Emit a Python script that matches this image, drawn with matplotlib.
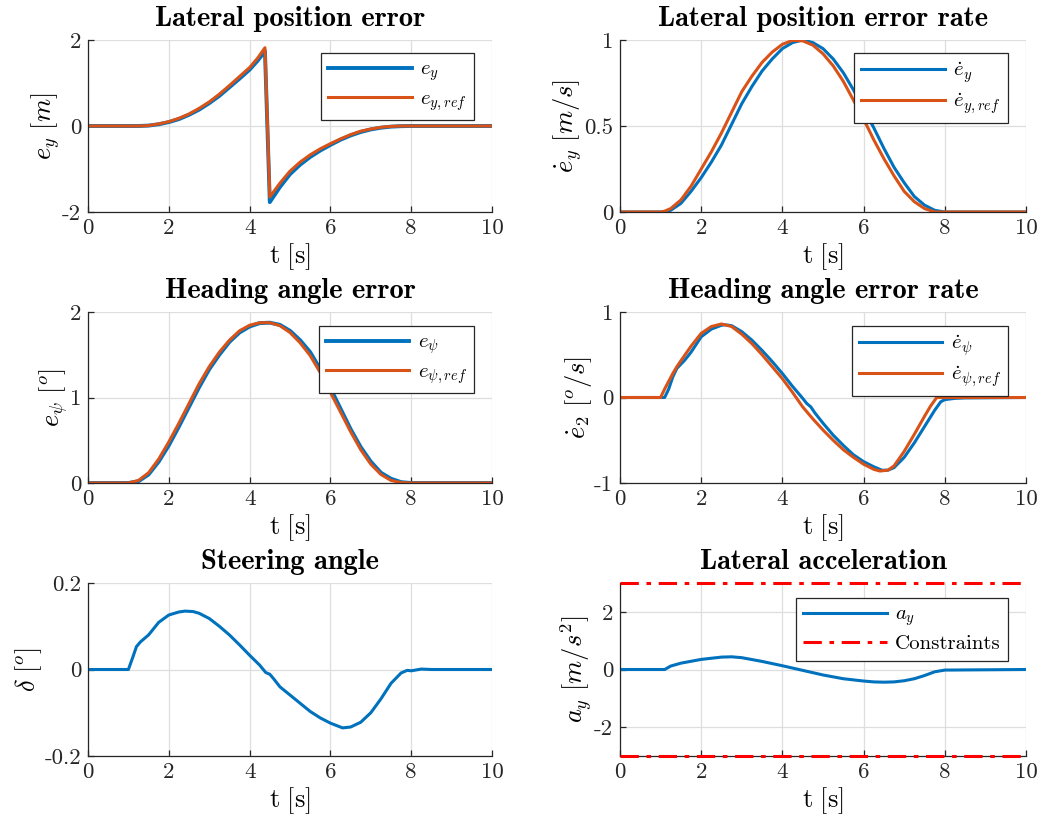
import matplotlib
matplotlib.use("Agg")
import matplotlib.pyplot as plt

plt.rcParams['font.family'] = ['cmr10', 'DejaVu Serif']
plt.rcParams['mathtext.fontset'] = 'cm'
plt.rcParams['axes.unicode_minus'] = False

BLUE = '#0072BD'
ORANGE = '#D95319'

# --- data ---
# lateral position error
t_ey = [0, 1.0, 1.25, 1.5, 1.75, 2.0, 2.25, 2.5, 2.75, 3.0, 3.25, 3.5, 3.75, 4.0, 4.2, 4.38,
        4.5, 4.75, 5.0, 5.25, 5.5, 5.75, 6.0, 6.25, 6.5, 6.75, 7.0, 7.25, 7.5, 7.75, 8.0, 10.0]
ey = [0, 0, 0.0, 0.01, 0.04, 0.09, 0.16, 0.26, 0.38, 0.53, 0.7, 0.9, 1.1, 1.31, 1.52, 1.74,
      -1.77, -1.42, -1.12, -0.9, -0.72, -0.57, -0.44, -0.32, -0.22, -0.14, -0.08, -0.04, -0.015, -0.004, 0, 0]
ey_ref = [0, 0, 0.0, 0.01, 0.05, 0.1, 0.18, 0.28, 0.41, 0.56, 0.74, 0.94, 1.15, 1.36, 1.58, 1.82,
          -1.65, -1.33, -1.05, -0.84, -0.67, -0.53, -0.41, -0.3, -0.2, -0.12, -0.07, -0.03, -0.01, 0, 0, 0]

# lateral position error rate
t_rate = [0, 1.0, 1.1, 1.25, 1.5, 1.75, 2.0, 2.25, 2.5, 2.75, 3.0, 3.25, 3.5, 3.75, 4.0, 4.25, 4.5,
          4.75, 5.0, 5.25, 5.5, 5.75, 6.0, 6.25, 6.5, 6.75, 7.0, 7.25, 7.5, 7.75, 8.0, 10.0]
ey_dot = [0, 0, 0, 0.01, 0.05, 0.12, 0.2, 0.29, 0.39, 0.51, 0.63, 0.73, 0.82, 0.89, 0.95, 0.985, 1.0,
          0.985, 0.95, 0.89, 0.81, 0.71, 0.6, 0.49, 0.37, 0.26, 0.17, 0.09, 0.04, 0.01, 0, 0]
ey_dot_ref = [0, 0, 0.005, 0.02, 0.07, 0.15, 0.25, 0.35, 0.46, 0.58, 0.7, 0.79, 0.87, 0.93, 0.975, 0.998, 0.995,
              0.97, 0.92, 0.85, 0.76, 0.65, 0.54, 0.42, 0.31, 0.21, 0.12, 0.06, 0.02, 0.0, 0, 0]

# heading angle error
t_psi = [0, 1.0, 1.25, 1.5, 1.75, 2.0, 2.25, 2.5, 2.75, 3.0, 3.25, 3.5, 3.75, 4.0, 4.25, 4.5,
         4.75, 5.0, 5.25, 5.5, 5.75, 6.0, 6.25, 6.5, 6.75, 7.0, 7.25, 7.5, 7.75, 8.0, 10.0]
epsi = [0, 0, 0.02, 0.1, 0.25, 0.44, 0.66, 0.89, 1.12, 1.33, 1.5, 1.65, 1.76, 1.83, 1.87, 1.875,
        1.85, 1.78, 1.67, 1.53, 1.33, 1.11, 0.87, 0.63, 0.42, 0.25, 0.12, 0.05, 0.01, 0, 0]
epsi_ref = [0, 0, 0.03, 0.12, 0.28, 0.48, 0.7, 0.93, 1.16, 1.36, 1.53, 1.67, 1.78, 1.845, 1.875, 1.875,
            1.84, 1.76, 1.64, 1.49, 1.29, 1.06, 0.83, 0.6, 0.39, 0.22, 0.1, 0.03, 0.005, 0, 0]

# heading angle error rate
t_pd = [0, 1.1, 1.2, 1.3, 1.4, 1.5, 1.6, 1.75, 2.0, 2.25, 2.5, 2.6, 2.75, 3.0, 3.25, 3.5, 3.75,
        4.0, 4.25, 4.5, 4.6, 4.7, 4.8, 5.0, 5.25, 5.5, 5.75, 6.0, 6.25, 6.45, 6.6, 6.75, 7.0, 7.25,
        7.5, 7.75, 7.9, 8.0, 8.25, 8.5, 10.0]
epsi_dot = [0, 0, 0.1, 0.24, 0.34, 0.39, 0.44, 0.53, 0.71, 0.8, 0.845, 0.85, 0.84, 0.77, 0.67, 0.55, 0.42,
            0.28, 0.13, -0.01, -0.07, -0.11, -0.18, -0.3, -0.44, -0.56, -0.67, -0.75, -0.81, -0.85, -0.85, -0.82, -0.7, -0.53,
            -0.34, -0.15, -0.05, -0.025, -0.01, -0.005, 0]
t_pd_ref = [0, 1.0, 1.1, 1.2, 1.3, 1.4, 1.5, 1.75, 2.0, 2.25, 2.5, 2.75, 3.0, 3.25, 3.5, 3.75, 4.0,
            4.25, 4.5, 4.75, 5.0, 5.25, 5.5, 5.75, 6.0, 6.25, 6.4, 6.6, 6.75, 7.0, 7.25, 7.5, 7.65, 7.8, 10.0]
epsi_dot_ref = [0, 0, 0.1, 0.19, 0.28, 0.36, 0.43, 0.6, 0.75, 0.83, 0.86, 0.83, 0.74, 0.63, 0.5, 0.36, 0.22,
                0.06, -0.11, -0.25, -0.38, -0.5, -0.61, -0.7, -0.78, -0.84, -0.86, -0.85, -0.8, -0.63, -0.43, -0.22, -0.1, 0, 0]

# steering angle
t_delta = [0, 1.0, 1.1, 1.2, 1.3, 1.5, 1.75, 2.0, 2.25, 2.4, 2.6, 2.75, 3.0, 3.25, 3.5, 3.75, 4.0,
           4.25, 4.4, 4.5, 4.6, 4.75, 5.0, 5.25, 5.5, 5.75, 6.0, 6.3, 6.5, 6.75, 7.0, 7.25, 7.5,
           7.75, 7.9, 8.0, 8.25, 8.5, 10.0]
delta = [0, 0, 0.026, 0.053, 0.064, 0.08, 0.109, 0.126, 0.133, 0.135, 0.134, 0.13, 0.118, 0.1, 0.08, 0.057, 0.033,
         0.01, -0.007, -0.011, -0.022, -0.04, -0.059, -0.078, -0.097, -0.112, -0.124, -0.135, -0.133, -0.122, -0.1, -0.068, -0.032,
         -0.008, -0.002, -0.003, 0.001, 0, 0]

# lateral acceleration
t_ay = [0, 1.1, 1.25, 1.5, 2.0, 2.5, 2.75, 3.0, 3.5, 4.0, 4.5, 5.0, 5.5, 6.0, 6.25, 6.5, 6.75,
        7.0, 7.25, 7.5, 7.75, 8.0, 10.0]
ay = [0, 0, 0.12, 0.22, 0.35, 0.43, 0.44, 0.41, 0.28, 0.13, -0.03, -0.19, -0.32, -0.4, -0.43, -0.44, -0.43,
      -0.39, -0.32, -0.21, -0.08, -0.02, 0]
ay_limit = 3

xticks = [0, 2, 4, 6, 8, 10]

W, H = 1042, 818
fig = plt.figure(figsize=(W / 100, H / 100), dpi=100)


def make_ax(left, top, w, h):
    return fig.add_axes([left / W, 1 - (top + h) / H, w / W, h / H])


def style(ax, title, ylabel, yticks, ylim):
    ax.set_xlim(0, 10)
    ax.set_ylim(*ylim)
    ax.set_xticks(xticks)
    ax.set_xticklabels([f'{v:g}' for v in xticks])
    ax.set_yticks(yticks)
    ax.set_yticklabels([f'{v:g}' for v in yticks])
    ax.grid(True, color='#dedede', linewidth=0.9)
    ax.set_axisbelow(True)
    for s in ('top', 'right'):
        ax.spines[s].set_visible(False)
    for s in ('left', 'bottom'):
        ax.spines[s].set_color('#262626')
        ax.spines[s].set_linewidth(0.9)
    ax.tick_params(direction='in', length=4, width=0.9, colors='#262626', labelsize=16.5, pad=5)
    ax.set_title(title, fontfamily='cmb10', fontsize=20.5, pad=10)
    ax.set_xlabel(r'$\mathrm{t\ [s]}$', fontsize=19, labelpad=2)
    ax.set_ylabel(ylabel, fontsize=19, labelpad=0)


def legend(ax, top_gap):
    h = ax.get_position().height * H
    leg = ax.legend(loc='upper right', bbox_to_anchor=(1 - 18 / (ax.get_position().width * W), 1 - top_gap / h),
                    borderaxespad=0, fontsize=15, handlelength=4.0, frameon=True, fancybox=False,
                    framealpha=1, edgecolor='#262626', borderpad=0.35, labelspacing=0.3, handletextpad=0.4)
    leg.get_frame().set_linewidth(0.9)


lw = 2.2

ax1 = make_ax(88, 40, 404, 172)
ax1.plot(t_ey, ey, color=BLUE, lw=lw + 0.6, label=r'$e_y$')
ax1.plot(t_ey, ey_ref, color=ORANGE, lw=lw, label=r'$e_{y,ref}$')
style(ax1, 'Lateral position error', r'$e_y\ [m]$', [-2, 0, 2], (-2, 2))
legend(ax1, 13)

ax2 = make_ax(620, 40, 406, 172)
ax2.plot(t_rate, ey_dot, color=BLUE, lw=lw, label=r'$\dot{e}_y$')
ax2.plot(t_rate, ey_dot_ref, color=ORANGE, lw=lw, label=r'$\dot{e}_{y,ref}$')
style(ax2, 'Lateral position error rate', r'$\dot{e}_y\ [m/s]$', [0, 0.5, 1], (0, 1))
legend(ax2, 13)

ax3 = make_ax(88, 312, 404, 171)
ax3.plot(t_psi, epsi, color=BLUE, lw=lw + 0.6, label=r'$e_\psi$')
ax3.plot(t_psi, epsi_ref, color=ORANGE, lw=lw, label=r'$e_{\psi,ref}$')
style(ax3, 'Heading angle error', r'$e_\psi\ [^o]$', [0, 1, 2], (0, 2))
legend(ax3, 14)

ax4 = make_ax(620, 312, 406, 171)
ax4.plot(t_pd, epsi_dot, color=BLUE, lw=lw, label=r'$\dot{e}_\psi$')
ax4.plot(t_pd_ref, epsi_dot_ref, color=ORANGE, lw=lw, label=r'$\dot{e}_{\psi,ref}$')
style(ax4, 'Heading angle error rate', r'$\dot{e}_2\ [^o/s]$', [-1, 0, 1], (-1, 1))
legend(ax4, 14)

ax5 = make_ax(88, 583, 404, 173)
ax5.plot(t_delta, delta, color=BLUE, lw=lw)
style(ax5, 'Steering angle', r'$\delta\ [^o]$', [-0.2, 0, 0.2], (-0.2, 0.2))

ax6 = make_ax(620, 583, 406, 173)
ax6.plot(t_ay, ay, color=BLUE, lw=lw, label=r'$a_y$')
dash = (0, (6, 2.5, 1.5, 2.5))
ax6.plot([0, 10], [ay_limit, ay_limit], color='red', lw=lw, ls=dash, label='Constraints',
         clip_on=False, zorder=5)
ax6.plot([0, 10], [-ay_limit, -ay_limit], color='red', lw=lw, ls=dash, clip_on=False, zorder=5)
style(ax6, 'Lateral acceleration', r'$a_y\ [m/s^2]$', [-2, 0, 2], (-3, 3))
legend(ax6, 15)

fig.savefig('out.png', dpi=100)
